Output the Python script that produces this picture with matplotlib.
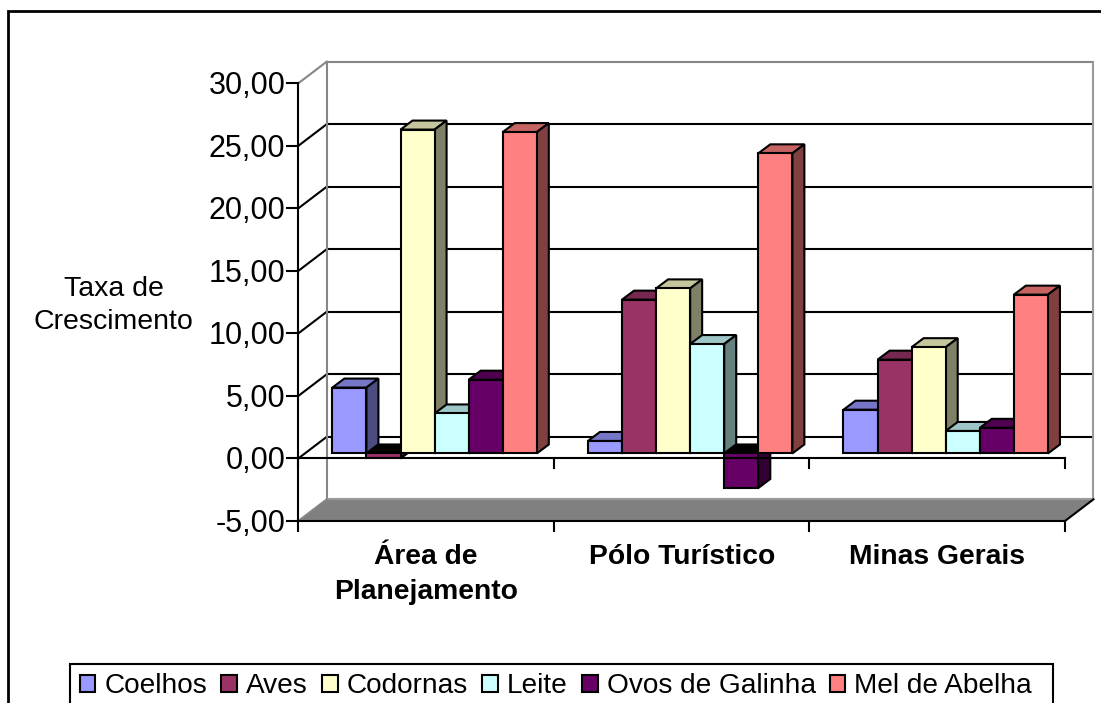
import matplotlib
matplotlib.use("Agg")
import matplotlib.pyplot as plt
from matplotlib.patches import Polygon, Rectangle

categories = ["Área de\nPlanejamento", "Pólo Turístico", "Minas Gerais"]
series_names = ["Coelhos", "Aves", "Codornas", "Leite", "Ovos de Galinha", "Mel de Abelha"]
coelhos = [5.27, 1.0, 3.5]
aves = [-0.4, 12.3, 7.5]
codornas = [25.9, 13.2, 8.5]
leite = [3.2, 8.75, 1.8]
ovos = [5.9, -2.76, 2.05]
mel = [25.7, 24.0, 12.7]
series_values = [coelhos, aves, codornas, leite, ovos, mel]
y_ticks = [-5, 0, 5, 10, 15, 20, 25, 30]
y_labels = ["-5,00", "0,00", "5,00", "10,00", "15,00", "20,00", "25,00", "30,00"]
front = ["#9999FF", "#993366", "#FFFFCC", "#CCFFFF", "#660066", "#FF8080"]
top = ["#7676C6", "#772850", "#C6C69E", "#9EC6C6", "#4F004F", "#C66363"]
side = ["#4C4C80", "#4D1A33", "#808066", "#668080", "#330033", "#804040"]

W, H = 1101, 703
plt.rcParams['font.family'] = ['Liberation Sans', 'DejaVu Sans']
fig = plt.figure(figsize=(W/100, H/100), dpi=100)
L, R, T, B = 298.3, 1065.0, 83.3, 521.0
ax = fig.add_axes([L/W, 1-B/H, (R-L)/W, (B-T)/H])
ax.set_xlim(0, 3)
ax.set_ylim(-5, 30)
ax.patch.set_visible(False)
for s in ax.spines.values():
    s.set_visible(False)
ax.set_xticks([])
ax.set_yticks([])

DX, DY = 28.5, 21.7
LW = 1.5
kw = dict(clip_on=False)


def pt(x, y, d=0.0, px=0.0, py=0.0):
    """Data point moved back by depth d (0 front, 1 back wall) and by px, py pixels (py up)."""
    p = ax.transData.transform((x, y)) + (DX*d+px, DY*d+py)
    return ax.transData.inverted().transform(p)


def seg(a, b, color="black", lw=LW, z=2):
    ax.plot([a[0], b[0]], [a[1], b[1]], color=color, lw=lw, zorder=z,
            solid_capstyle="projecting", **kw)


# floor
ax.add_patch(Polygon([pt(0, -5), pt(3, -5), pt(3, -5, 1), pt(0, -5, 1)],
                     facecolor="#808080", edgecolor="none", zorder=1, **kw))
# walls and grid
for v in y_ticks[1:-1]:
    seg(pt(0, v, 1), pt(3, v, 1), z=1.5)
    seg(pt(0, v), pt(0, v, 1), z=1.5)
G = "#868686"
seg(pt(0, 30, 1), pt(3, 30, 1), G, z=1.4)
seg(pt(0, 30), pt(0, 30, 1), G, z=1.4)
seg(pt(0, -5, 1), pt(0, 30, 1), G, z=1.6)
seg(pt(3, -5, 1), pt(3, 30, 1), "#9a9a9a", z=1.6)
seg(pt(0, -5, 1), pt(3, -5, 1), "#9a9a9a", z=1.6)
seg(pt(0, -5), pt(0, -5, 1), G, z=1.6)
seg(pt(3, -5), pt(3, -5, 1), z=1.6)
# front axes
seg(pt(0, -5), pt(3, -5), z=1.8)
seg(pt(0, -5), pt(0, 30), z=1.8)
for v, lab in zip(y_ticks, y_labels):
    seg(pt(0, v, 0, -11, 0), pt(0, v), z=1.8)
    ax.annotate(lab, (0, v), xytext=(-13, -3), textcoords="offset pixels",
                ha="right", va="center", fontsize=22, annotation_clip=False)
for c in range(4):
    for base in (0, -5):
        seg(pt(c, base), pt(c, base, 0, 0, -9.5), z=1.8)

# bars
BW = 1/7.5
GAP = 0.75*BW
BX, BY = 8.5, 5.0   # placement of bar front within depth
OX, OY = 12, 9      # bar depth


def poly(pts, fc, z):
    ax.add_patch(Polygon(pts, closed=True, facecolor=fc, edgecolor="black", lw=LW,
                         joinstyle="miter", zorder=z, **kw))


for c in range(3):
    for i, vals in enumerate(series_values):
        v = vals[c]
        x0 = c + GAP + i*BW
        x1 = x0 + BW
        hi = max(v, 0)
        lo = min(v, 0)

        def F(x, y, d=0):
            return pt(x, y, 0, BX + OX*d, BY + OY*d)

        z = 3 + i*0.1 + c
        tc = "black" if v < 0 else top[i]
        poly([F(x0, hi), F(x1, hi), F(x1, hi, 1), F(x0, hi, 1)], tc, z)
        poly([F(x1, lo), F(x1, hi), F(x1, hi, 1), F(x1, lo, 1)], side[i], z)
        poly([F(x0, lo), F(x1, lo), F(x1, hi), F(x0, hi)], front[i], z+0.01)
# the zero axis stays visible over the downward bars
seg(pt(0, 0), pt(3, 0), z=9)

for c, lab in enumerate(categories):
    ax.annotate(lab, (c+0.5, -5), xytext=(0, -23), textcoords="offset pixels", ha="center", va="top",
                fontsize=20.3, fontweight="bold", linespacing=1.46, annotation_clip=False)

fig.text(113.5/W, 1-305.5/H, "Taxa de\nCrescimento", ha="center", va="center", fontsize=20.5, linespacing=1.32)

# frame, running off the right and bottom of the picture
ax.add_patch(Rectangle((8/W, -0.05), 1.1, 1-11.5/H+0.05, fill=False, edgecolor="black", lw=2,
                       transform=fig.transFigure, clip_on=False, zorder=18))
# legend box, also cut by the bottom edge
ax.add_patch(Rectangle((70/W, -0.05), (1052.5-70)/W, 1-663.7/H+0.05, facecolor="white", edgecolor="black",
                       lw=1.5, transform=fig.transFigure, clip_on=False, zorder=19))
leg = ax.legend(handles=[Rectangle((0, 0), 1, 1, facecolor=front[i], edgecolor="black", lw=1.5,
                                   label=series_names[i]) for i in range(6)],
                loc="upper left", bbox_to_anchor=(70/W, 1-663.7/H), bbox_transform=fig.transFigure, ncol=6,
                fontsize=20.15, frameon=False,
                handlelength=0.57, handleheight=0.57, handletextpad=0.32, columnspacing=0.5,
                borderpad=0.34, borderaxespad=0)
leg.set_zorder(20)
fig.savefig("out.png", dpi=100, facecolor="white")
